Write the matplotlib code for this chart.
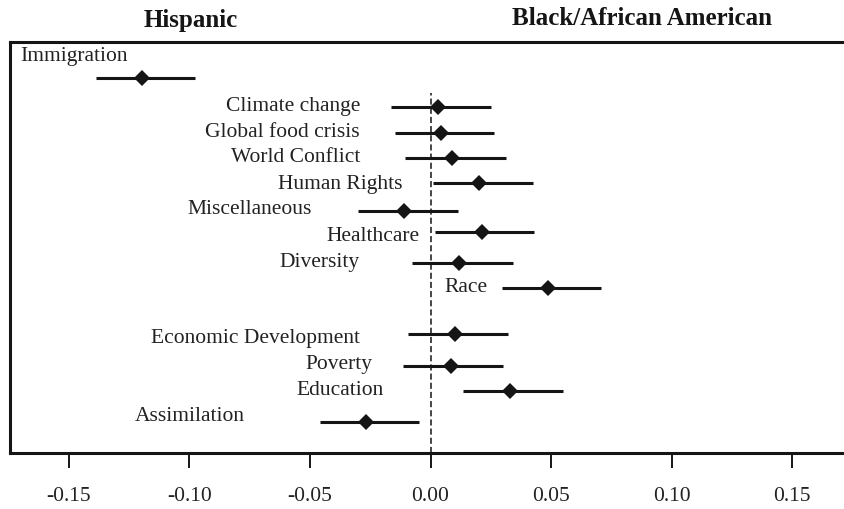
import matplotlib
matplotlib.use("Agg")
import matplotlib.pyplot as plt

plt.rcParams['font.family'] = ['Liberation Serif', 'DejaVu Serif']

# topic estimates with interval bounds
topics = ["Immigration", "Climate change", "Global food crisis", "World Conflict",
          "Human Rights", "Miscellaneous", "Healthcare", "Diversity", "Race",
          "Economic Development", "Poverty", "Education", "Assimilation"]
estimate = [-0.1195, 0.0032, 0.0042, 0.0090, 0.0201, -0.0109, 0.0212,
            0.0120, 0.0488, 0.0103, 0.0084, 0.0330, -0.0267]
lower = [-0.1388, -0.0164, -0.0148, -0.0104, 0.0009, -0.0301, 0.0018,
         -0.0075, 0.0295, -0.0092, -0.0113, 0.0134, -0.0458]
upper = [-0.0976, 0.0251, 0.0264, 0.0311, 0.0424, 0.0115, 0.0431,
         0.0341, 0.0707, 0.0322, 0.0302, 0.0550, -0.0047]
rows = [12.76, 11.77, 10.88, 10.04, 9.19, 8.25, 7.54, 6.48, 5.63,
        4.05, 2.98, 2.11, 1.06]

# where each topic name sits (right edge of text, vertical position)
label_x = [-0.1699, -0.0292, -0.0292, -0.0292, -0.0117, -0.0490, -0.0044,
           -0.0294, 0.0237, -0.0294, -0.0241, -0.0194, -0.0770]
label_y = [13.49, 11.79, 10.90, 10.05, 9.15, 8.28, 7.37, 6.48, 5.63,
           3.91, 3.02, 2.14, 1.24]

xticks = [-0.15, -0.10, -0.05, 0.00, 0.05, 0.10, 0.15]
xtick_labels = ["-0.15", "-0.10", "-0.05", "0.00", "0.05", "0.10", "0.15"]

fig = plt.figure(figsize=(8.44, 5.09), dpi=100)
ax = fig.add_axes([0.0113, 0.1094, 0.9887, 0.8087])

ink = '#151515'

ax.vlines(0, 0, 12.25, colors=ink, linestyles=(0, (4, 2)), linewidth=1.1)

for i in range(len(topics)):
    ax.plot([lower[i], upper[i]], [rows[i], rows[i]], color=ink, linewidth=2.2,
            solid_capstyle='butt')
    ax.plot(estimate[i], rows[i], marker='D', markersize=8.5, color=ink,
            markeredgewidth=0)
    if i == 0:
        ax.text(label_x[i], label_y[i], topics[i], ha='left', va='center',
                fontsize=15.5, color='#222222')
    else:
        ax.text(label_x[i], label_y[i], topics[i], ha='right', va='center',
                fontsize=15.5, color='#222222')

ax.set_xlim(-0.1745, 0.1714)
ax.set_ylim(0, 14)

ax.text(-0.0994, 1.052, "Hispanic", transform=ax.get_xaxis_transform(),
        ha='center', va='center', fontsize=18, fontweight='bold', color=ink)
ax.text(0.0875, 1.056, "Black/African American", transform=ax.get_xaxis_transform(),
        ha='center', va='center', fontsize=18, fontweight='bold', color=ink)

ax.set_xticks(xticks)
ax.set_xticklabels(xtick_labels)
ax.set_yticks([])
ax.tick_params(axis='x', direction='out', length=11, width=1.4, pad=13,
               labelsize=15.5, colors=ink, labelcolor='#222222')

ax.spines['right'].set_visible(False)
for side in ['left', 'top', 'bottom']:
    ax.spines[side].set_linewidth(2.2)
    ax.spines[side].set_color(ink)

fig.savefig("out.png", dpi=100)
